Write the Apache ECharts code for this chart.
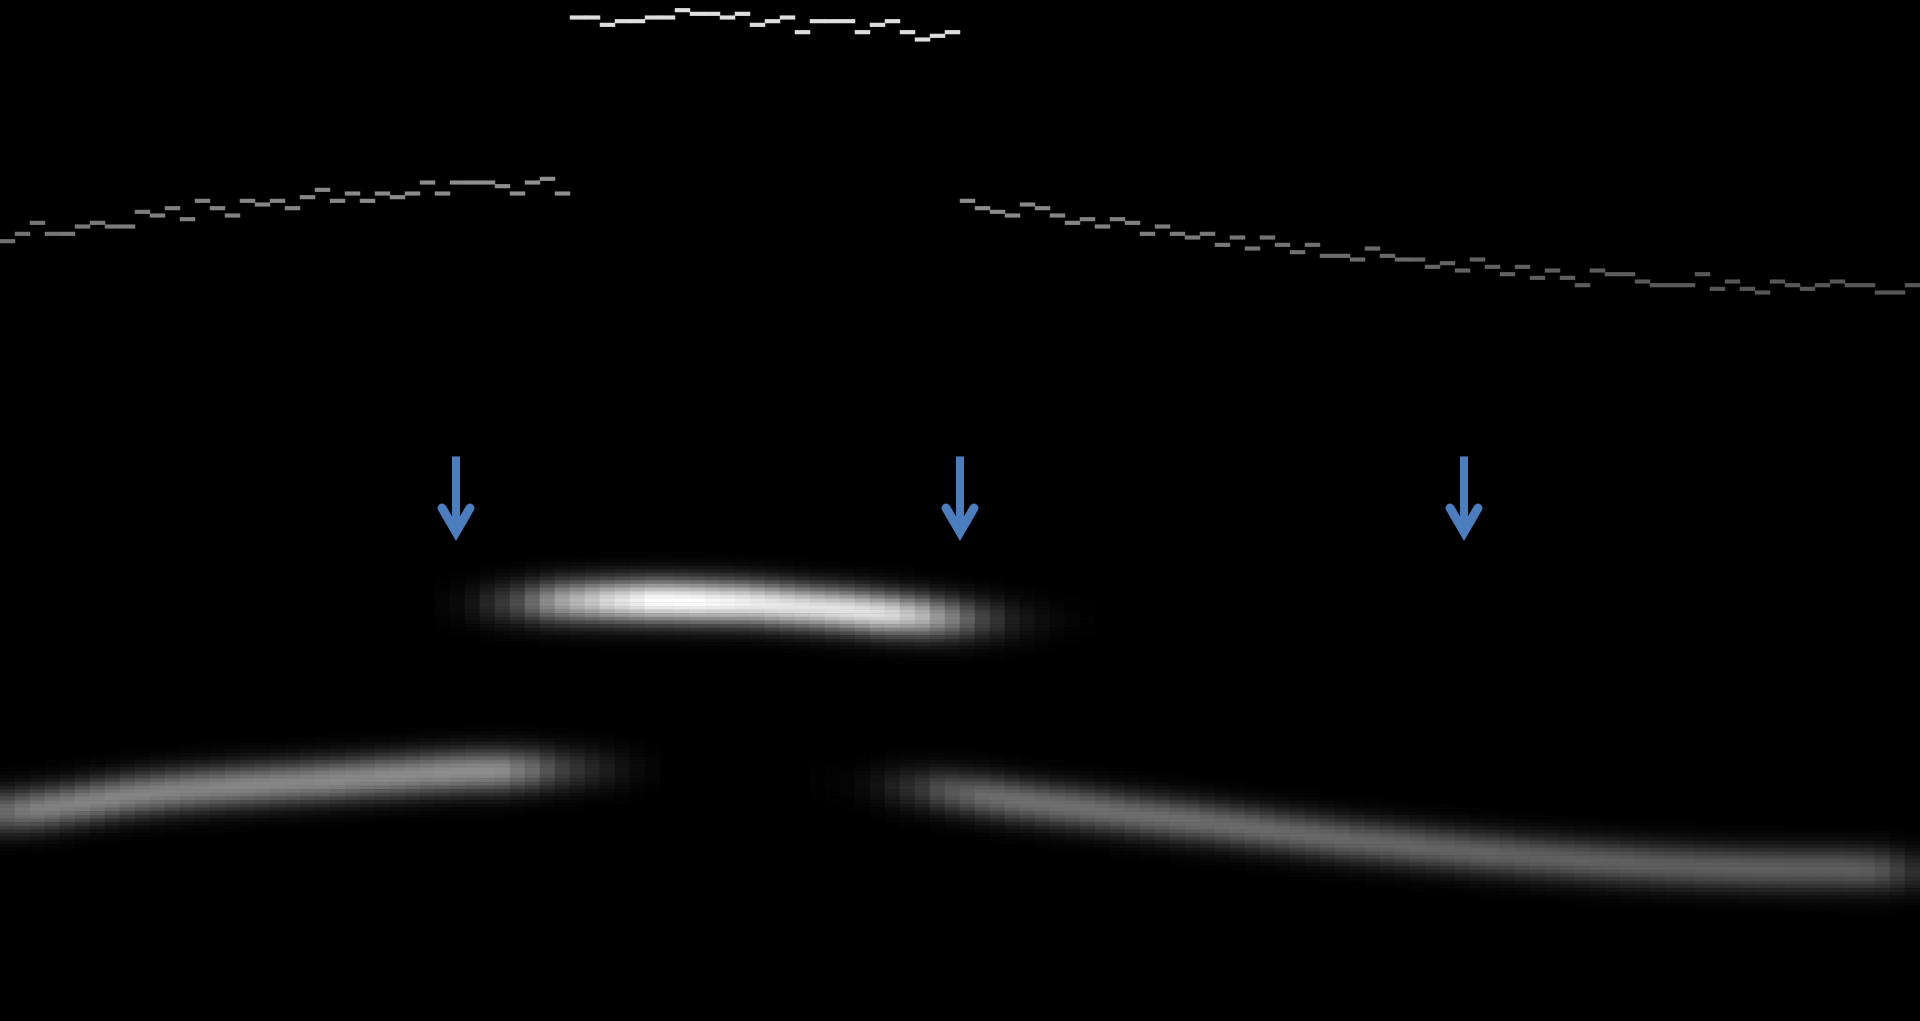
<!DOCTYPE html>
<html>
<head>
<meta charset="utf-8">
<title>Pitch contour</title>
<script src="https://cdn.jsdelivr.net/npm/echarts@6/dist/echarts.min.js"></script>
<style>
  html, body { margin: 0; padding: 0; background: #000; }
  #chart { width: 1920px; height: 1021px; }
</style>
</head>
<body>
<div id="chart"></div>
<script>
const COLUMN_COUNT = 128
const ROW_COUNT = 278

// row picked in each column, counted from the top
const targetRows = [
  65, 63, 60, 63, 63, 61, 60, 61, 61, 57, 58, 56, 59, 54, 56, 58, 54, 55, 54, 56,
  53, 51, 54, 52, 54, 52, 53, 52, 49, 52, 49, 49, 49, 50, 52, 49, 48, 52,
  4, 4, 6, 5, 5, 4, 4, 2, 3, 3, 4, 3, 6, 5, 4, 8, 5, 5, 5, 8, 6, 5, 8, 10, 9, 8,
  54, 56, 57, 58, 55, 56, 58, 60, 59, 61, 59, 60, 63, 61, 63, 64, 63, 66, 64, 67,
  64, 66, 68, 66, 69, 69, 70, 67, 69, 70, 70, 72, 71, 73, 70, 72, 74, 72, 75, 73,
  75, 77, 73, 74, 74, 76, 77, 77, 77, 74, 78, 76, 78, 79, 76, 77, 78, 77, 76, 77,
  77, 79, 79, 77
]
const targetLevels = [
  .44, .45, .46, .46, .47, .47, .48, .48, .49, .49, .5, .5, .5, .51, .51, .51, .52, .52, .52, .52,
  .53, .53, .53, .54, .54, .54, .54, .55, .55, .55, .55, .56, .56, .56, .56, .56, .56, .56,
  .87, .87, .87, .87, .87, .87, .87, .87, .87, .87, .87, .87, .87, .87, .87, .87, .87, .87, .87, .87, .87, .87, .87, .87, .87, .87,
  .55, .55, .54, .54, .53, .53, .52, .52, .51, .51, .5, .5, .49, .49, .48, .48, .47, .47, .46, .46,
  .45, .45, .44, .44, .43, .43, .42, .42, .41, .41, .4, .4, .39, .39, .39, .38, .38, .38, .37, .37,
  .37, .36, .36, .36, .36, .35, .35, .35, .35, .34, .34, .34, .34, .34, .34, .34, .34, .34, .34, .34,
  .34, .34, .34, .34
]

const leftBandStart = 0
const leftBandCenters = [
  220.6, 220.3, 219.9, 219.4, 218.8, 218.2, 217.6, 217.0, 216.4, 215.9, 215.5, 215.1, 214.7, 214.4, 214.1,
  213.8, 213.5, 213.3, 213.0, 212.8, 212.5, 212.3, 212.0, 211.7, 211.4, 211.1, 210.9, 210.6, 210.3, 210.1,
  209.9, 209.7, 209.6, 209.5, 209.4, 209.3, 209.2, 209.2, 209.1, 209.1, 209.0, 209.0, 209.0, 209.0
]
const leftBandPeaks = [
  .42, .47, .5, .51, .51, .52, .52, .52, .52, .52, .52, .52, .52, .52, .52,
  .53, .53, .53, .53, .53, .53, .54, .54, .54, .54, .55, .55, .55, .55, .56,
  .56, .56, .56, .55, .48, .42, .33, .25, .2, .15, .11, .07, .04, .02
]

const midBandStart = 29
const midBandCenters = [
  164.1, 164.0, 163.9, 163.8, 163.7, 163.6, 163.5, 163.4, 163.3, 163.3, 163.2, 163.2, 163.2, 163.2, 163.2,
  163.2, 163.3, 163.4, 163.5, 163.6, 163.7, 163.9, 164.2, 164.5, 164.8, 165.1, 165.4, 165.7, 166.1, 166.5,
  166.8, 167.1, 167.4, 167.7, 167.9, 168.1, 168.2, 168.3, 168.4, 168.5, 168.5, 168.5, 168.5, 168.5
]
const midBandPeaks = [
  .02, .04, .08, .15, .22, .3, .42, .55, .65, .72, .78, .85, .9, .95, 1,
  1, 1, 1, .98, .97, .95, .93, .92, .91, .9, .89, .9, .9, .89, .88,
  .85, .78, .72, .6, .5, .38, .27, .2, .12, .08, .05, .03, .015, .01
]

const rightBandStart = 54
const rightBandCenters = [
  212.6, 212.8, 213, 213.3, 213.6, 213.9, 214.2, 214.5, 214.8, 215.3, 215.9, 216.4, 216.9, 217.5, 218,
  218.5, 219, 219.4, 219.9, 220.4, 220.9, 221.4, 221.9, 222.3, 222.8, 223.2, 223.7, 224.2, 224.7, 225.2,
  225.7, 226.2, 226.7, 227.2, 227.7, 228.2, 228.6, 229, 229.4, 229.8, 230.2, 230.6, 231, 231.4, 231.8,
  232.1, 232.4, 232.8, 233.1, 233.4, 233.7, 234, 234.3, 234.5, 234.8, 235, 235.2, 235.4, 235.6, 235.8,
  235.9, 236, 236.1, 236.2, 236.2, 236.3, 236.3, 236.3, 236.3, 236.4, 236.5, 236.6, 236.8, 237
]
const rightBandPeaks = [
  .01, .015, .02, .04, .07, .12, .17, .22, .3, .35, .38, .42, .43, .44, .44,
  .44, .44, .44, .44, .44, .43, .43, .43, .43, .43, .43, .42, .42, .42, .42,
  .42, .41, .41, .41, .41, .41, .4, .4, .4, .4, .4, .39, .39, .39, .39,
  .39, .38, .38, .38, .38, .38, .38, .38, .38, .38, .37, .37, .37, .37, .37,
  .37, .37, .37, .37, .37, .37, .37, .37, .37, .37, .36, .32, .25, .18
]

// falloff across a band, one entry per row away from its centre
const bandProfile = [1, .97, .89, .77, .63, .48, .35, .24, .155, .095, .055, .03, .016, .008, .004]

const arrowColumns = [30.4, 64, 97.6]
const arrowTopRow = 124.2
const arrowTipRow = 147

const columns = Array.from({ length: COLUMN_COUNT }, (_, i) => i)
const rows = Array.from({ length: ROW_COUNT }, (_, i) => i)

function profileAt(distance) {
  const i = Math.floor(distance)
  if (i >= bandProfile.length - 1) return 0
  const t = distance - i
  return bandProfile[i] * (1 - t) + bandProfile[i + 1] * t
}

function buildBlurCells() {
  const cells = new Map()
  const bands = [
    [leftBandStart, leftBandCenters, leftBandPeaks],
    [midBandStart, midBandCenters, midBandPeaks],
    [rightBandStart, rightBandCenters, rightBandPeaks]
  ]
  bands.forEach(([start, centers, peaks]) => {
    centers.forEach((center, i) => {
      const col = start + i
      for (let r = Math.floor(center) - 15; r <= Math.ceil(center) + 15; r++) {
        const v = peaks[i] * profileAt(Math.abs(r - center))
        if (v < 0.004) continue
        const key = col + '_' + r
        cells.set(key, [col, r, Math.min(1, (cells.has(key) ? cells.get(key)[2] : 0) + v)])
      }
    })
  })
  return Array.from(cells.values())
}

const traceCells = targetRows.map((row, col) => [col, row, targetLevels[col]])

function renderArrow(params, api) {
  const top = api.coord([api.value(0), api.value(1)])
  const tip = api.coord([api.value(0), api.value(2)])
  return {
    type: 'group',
    children: [
      {
        type: 'line',
        shape: { x1: top[0], y1: top[1], x2: tip[0], y2: tip[1] - 8 },
        style: { stroke: '#4a7ebf', lineWidth: 8, lineCap: 'butt' }
      },
      {
        type: 'polyline',
        shape: { points: [[tip[0] - 14, tip[1] - 32], [tip[0], tip[1] - 8], [tip[0] + 14, tip[1] - 32]] },
        style: { stroke: '#4a7ebf', lineWidth: 9, fill: null, lineCap: 'round', lineJoin: 'miter', miterLimit: 10 }
      }
    ]
  }
}

const chart = echarts.init(document.getElementById('chart'))
chart.setOption({
  animation: false,
  backgroundColor: '#000',
  grid: { left: 0, top: 1, width: 1920, height: 1019.4 },
  xAxis: [
    { type: 'category', data: columns, show: false },
    { type: 'value', min: 0, max: COLUMN_COUNT, show: false }
  ],
  yAxis: [
    { type: 'category', data: rows, inverse: true, show: false },
    { type: 'value', min: 0, max: ROW_COUNT, inverse: true, show: false }
  ],
  visualMap: {
    show: false,
    min: 0,
    max: 1,
    seriesIndex: [0, 1],
    inRange: { color: ['#000000', '#ffffff'] }
  },
  series: [
    {
      name: 'blurred',
      type: 'heatmap',
      data: buildBlurCells(),
      progressive: 0,
      silent: true
    },
    {
      name: 'trace',
      type: 'heatmap',
      data: traceCells,
      progressive: 0,
      silent: true
    },
    {
      name: 'arrows',
      type: 'custom',
      xAxisIndex: 1,
      yAxisIndex: 1,
      renderItem: renderArrow,
      data: arrowColumns.map(c => [c, arrowTopRow, arrowTipRow]),
      silent: true,
      z: 5
    }
  ]
})
</script>
</body>
</html>
